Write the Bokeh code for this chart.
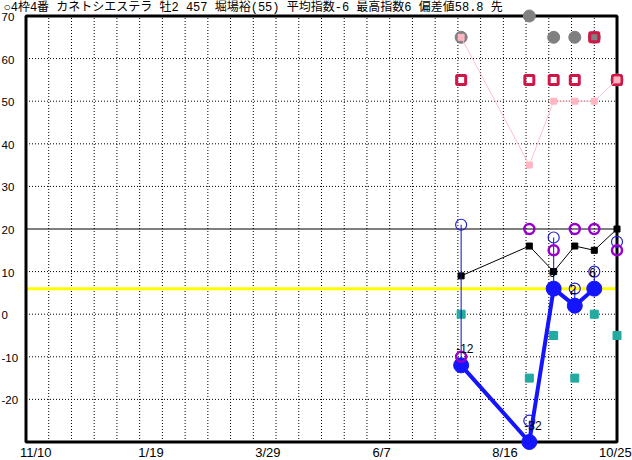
import pandas as pd
from bokeh.plotting import figure
from bokeh.models import Range1d
from bokeh.core.properties import value
from bokeh.embed import file_html
from bokeh.resources import INLINE

# ---------------- data ----------------
title_text = "○4枠4番 カネトシエステラ 牡2 457 堀場裕(55) 平均指数-6 最高指数6 偏差値58.8 先"
axis_start = "2023-10-27"
axis_end = "2024-10-25"
race_dates = ["2024-07-21", "2024-09-01", "2024-09-16", "2024-09-29", "2024-10-11", "2024-10-25"]
index_vals = [-12, -32, 6, 2, 6]            # big blue circles, past races
blue_open = [21, -25, 18, 6, 10, 17]
purple = [-10, 20, 15, 20, 20, 15]
black_sq = [9, 16, 10, 16, 15, 20]
teal = [0, -15, -5, -15, 0, -5]
gray = [65, 70, 65, 65, 65, 55]
crimson = [55, 55, 55, 55, 65, 55]
pink = [65, 35, 50, 50, 50, 55]
best_index = 6
ref_level = 20
y_min, y_max = -30, 70
y_ticks = [-20, -10, 0, 10, 20, 30, 40, 50, 60, 70]
x_tick_labels = ["11/10", "1/19", "3/29", "6/7", "8/16", "10/25"]
x_tick_days = [6, 77, 149, 219, 295, 363]
grid_step_days = 14

# ---------------- derived ----------------
t0 = pd.Timestamp(axis_start)
span_days = (pd.Timestamp(axis_end) - t0).days
days = [(pd.Timestamp(d) - t0).days for d in race_dates]
clamped = [min(max(v, y_min), y_max) for v in index_vals]

# layout (pixels, canvas = plot frame)
W, H = 632, 460
box_left_px, box_w_px = 25.5, 591
box_top_px, ppu = 15.5, 4.26
ppd = box_w_px / span_days
x_start = -box_left_px / ppd
x_end = x_start + W / ppd
y_top = y_max + box_top_px / ppu
y_bot = y_top - H / ppu

p = figure(width=W, height=H, output_backend="svg", toolbar_location=None,
           x_range=Range1d(x_start, x_end), y_range=Range1d(y_bot, y_top),
           x_axis_location=None, y_axis_location=None,
           min_border_left=0, min_border_right=0, min_border_top=0, min_border_bottom=0)
p.outline_line_color = None
p.xgrid.visible = False
p.ygrid.visible = False
p.background_fill_color = "white"
p.border_fill_color = "white"

# y tick labels (left-aligned, as in the original)
p.text(x=[x_start] * len(y_ticks), y=y_ticks, text=[str(t) for t in y_ticks], x_offset=1, y_offset=1,
       text_align="left", text_baseline="middle", text_font=value("Liberation Sans"),
       text_font_size="11.5px", text_color="black")

# x tick labels under the box
p.text(x=x_tick_days, y=[y_min] * len(x_tick_days), text=x_tick_labels, y_offset=10.5,
       text_align="center", text_baseline="middle", text_font=value("Liberation Sans"),
       text_font_size="13px", text_color="black")

# grid lines
vgrid = list(range(grid_step_days, span_days, grid_step_days))
p.segment(x0=vgrid, x1=vgrid, y0=[y_min] * len(vgrid), y1=[y_max] * len(vgrid),
          line_color="black", line_width=1, line_dash="1 2")
hgrid = [t for t in y_ticks if t not in (ref_level, y_max)]
p.segment(x0=[0] * len(hgrid), x1=[span_days] * len(hgrid), y0=hgrid, y1=hgrid,
          line_color="black", line_width=1, line_dash="1 2")
p.segment(x0=[0], x1=[span_days], y0=[ref_level], y1=[ref_level], line_color="black", line_width=1)
p.segment(x0=[0], x1=[span_days], y0=[best_index], y1=[best_index], line_color="#ffff00", line_width=3)

# box
p.quad(left=[0], right=[span_days], bottom=[y_min], top=[y_max],
       fill_color=None, line_color="black", line_width=3)

# gray circles, crimson squares, pink line
p.scatter(days, gray, marker="circle", size=12, fill_color="#808080", line_color="#808080")
p.scatter(days, crimson, marker="square", size=9, fill_color=None, line_color="#d01848", line_width=3)
p.line(days, pink, line_color="#ffc0cb", line_width=1)
p.scatter(days, pink, marker="square", size=6, fill_color="#ffb6c1", line_color="#ffb6c1")

# teal squares
p.scatter(days, teal, marker="square", size=8, fill_color="#22aaa0", line_color="#22aaa0")

# black squares with line
p.line(days, black_sq, line_color="black", line_width=1)
p.scatter(days, black_sq, marker="square", size=6, fill_color="black", line_color="black")

# blue vertical lines and open circles
n = len(index_vals)
p.segment(x0=days[:n], x1=days[:n], y0=blue_open[:n], y1=clamped, line_color="#1010b0", line_width=1)
p.scatter(days, blue_open, marker="circle", size=11, fill_color=None, line_color="#2020d0", line_width=1.2)

# index line with big circles
p.line(days[:n], clamped, line_color="#1414ff", line_width=4)
p.scatter(days[:n], clamped, marker="circle", size=15, fill_color="#1414ff", line_color="#1414ff")

# purple circles
p.scatter(days, purple, marker="circle", size=10, fill_color=None, line_color="#9900cc", line_width=2.5)

# index value labels
p.text(x=days[:n], y=clamped, text=[str(v) for v in index_vals], x_offset=-5, y_offset=-12,
       text_align="left", text_baseline="bottom", text_font=value("Liberation Sans"),
       text_font_size="12px", text_color="black")

# title (top of the canvas)
p.text(x=[x_start], y=[y_top], text=[title_text], x_offset=3, y_offset=7, text_align="left",
       text_baseline="middle", text_font=value("Liberation Mono, Noto Sans CJK JP"),
       text_font_size="12px", text_color="black")

open("out.html", "w").write(file_html(p, INLINE))
